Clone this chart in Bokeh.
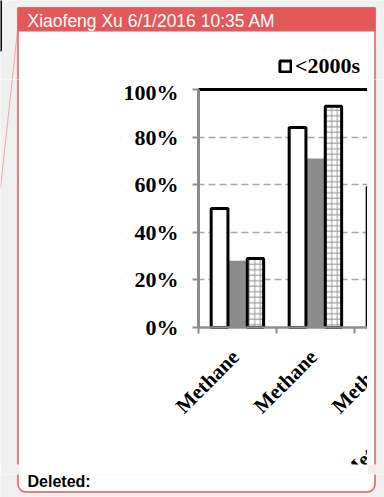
import math

from bokeh.core.properties import value
from bokeh.embed import file_html
from bokeh.layouts import column, row
from bokeh.models import (BoxAnnotation, ColumnDataSource, FixedTicker, Label, LabelSet,
                          Legend, LegendItem, PrintfTickFormatter, Range1d)
from bokeh.plotting import figure
from bokeh.resources import INLINE

# ---- data -------------------------------------------------------------
categories = ["Methane", "Methane", "Methane", "Methane Emissions"]
share_white = [50, 84, 59]          # "<2000s" series (open bars)
share_gray = [28, 71]               # solid grey series
share_hatch = [29, 93]              # cross-hatched series
legend_label = "<2000s"
y_ticks = [0, 20, 40, 60, 80, 100]
author_line = "Xiaofeng Xu 6/1/2016 10:35 AM"
status_text = "Deleted:"

# ---- styling ----------------------------------------------------------
W, H = 384, 497
SERIF = "Liberation Serif"
SANS = "Liberation Sans"
RED = "#e35858"
AXIS_GREY = "#8c8c8c"
PAGE_GREY = "#f0f0f0"

# page geometry (pixels)
CX0, CX1, CY0, CY1 = 20, 367, 79, 474      # chart figure
FRAME_L, FRAME_B_PAD = 120, 10             # drawing-area left edge / room for x axis
PLOT_L, PLOT_T, PLOT_B = 198, 89, 327      # value-axis origin / 100% / 0%
CAT_PX = 78                                # width of one category slot
PCT_PX = (PLOT_B - PLOT_T) / 100.0         # pixels per percentage point

white_style = dict(fill_color="white", line_color="black", line_width=3)
gray_style = dict(fill_color=AXIS_GREY, line_color=None)
hatch_style = dict(fill_color="white", line_color="black", line_width=3,
                   hatch_pattern="+", hatch_color="#9a9a9a", hatch_scale=5.5,
                   hatch_weight=1)


def chrome_fig(x0, x1, y0, y1, radius=0):
    """A piece of the comment balloon, drawn in page pixel coordinates."""
    f = figure(width=x1 - x0, height=y1 - y0, output_backend="svg", toolbar_location=None,
               x_range=Range1d(x0, x1), y_range=Range1d(y1, y0),
               x_axis_location=None, y_axis_location=None, min_border=0)
    f.grid.visible = False
    f.outline_line_color = None
    f.background_fill_color = PAGE_GREY
    f.border_fill_color = PAGE_GREY
    # connector line from the balloon to the page
    f.segment(x0=17, y0=30, x1=0, y1=190, line_color="#f2a5a5", line_width=1)
    # balloon body with red outline
    f.quad(left=17.5, right=374.5, top=7.5, bottom=491.5, fill_color="white",
           line_color=RED, line_width=1.5, border_radius=radius)
    return f


# ---- header strip with author line and the legend ------------------------
top = chrome_fig(0, W, 0, CY0)
top.quad(left=17, right=375, top=7, bottom=31, fill_color=RED, line_color=None)
top.add_layout(Label(x=27, y=20, text=author_line, text_font=SANS,
                     text_font_size="17.5px", text_color="white",
                     text_baseline="alphabetic"))
# legend sample: same style as the open bars, parked outside the strip
legend_proxy = top.vbar(x=[-50], top=[share_white[0]], width=10, **white_style)
top.add_layout(Legend(items=[LegendItem(label=legend_label, renderers=[legend_proxy])],
                      location=(278, 0), glyph_width=14, glyph_height=14,
                      padding=0, margin=0, spacing=0, label_standoff=3,
                      border_line_color=None, background_fill_alpha=0,
                      label_text_font=SERIF, label_text_font_style="bold",
                      label_text_font_size="22px", label_text_color="black"))

left = chrome_fig(0, CX0, CY0, CY1)
right = chrome_fig(CX1, W, CY0, CY1)
bottom = chrome_fig(0, W, CY1, H, radius=8)
bottom.add_layout(Label(x=27, y=481, text=status_text, text_font=SANS,
                        text_font_style="bold", text_font_size="16px",
                        text_color="black", text_baseline="alphabetic"))

# ---- chart --------------------------------------------------------------
x_end = (CX1 - PLOT_L) / CAT_PX
frame_b = CY1 - FRAME_B_PAD
p = figure(width=CX1 - CX0, height=CY1 - CY0, output_backend="svg",
           toolbar_location=None,
           x_range=Range1d((FRAME_L - PLOT_L) / CAT_PX, x_end),
           y_range=Range1d(-(frame_b - PLOT_B) / PCT_PX, 100 + (PLOT_T - CY0) / PCT_PX),
           min_border_left=FRAME_L - CX0, min_border_right=0,
           min_border_top=0, min_border_bottom=FRAME_B_PAD)
p.border_fill_color = "white"
p.background_fill_color = "white"
p.outline_line_color = None

# value axis, pinned to the category origin
yax = p.yaxis[0]
yax.fixed_location = 0
yax.bounds = (0, 100)
yax.ticker = FixedTicker(ticks=y_ticks)
yax.formatter = PrintfTickFormatter(format="%d%%")
yax.axis_line_color = AXIS_GREY
yax.axis_line_width = 3
yax.major_tick_line_color = AXIS_GREY
yax.major_tick_line_width = 2
yax.major_tick_out = 6
yax.major_tick_in = 0
yax.minor_tick_line_color = None
yax.major_label_text_font = SERIF
yax.major_label_text_font_style = "bold"
yax.major_label_text_font_size = "22px"
yax.major_label_text_color = "black"
yax.major_label_standoff = 14

# category axis at 0%: baseline with tick marks on the slot boundaries
n = len(categories)
xax = p.xaxis[0]
xax.fixed_location = 0
xax.bounds = (0, x_end)
xax.ticker = FixedTicker(ticks=[], minor_ticks=list(range(n + 1)))
xax.axis_line_color = AXIS_GREY
xax.axis_line_width = 2.5
xax.major_tick_line_color = None
xax.major_tick_out = 0
xax.major_label_standoff = 0
xax.minor_tick_line_color = AXIS_GREY
xax.minor_tick_line_width = 2
xax.minor_tick_in = 0
xax.minor_tick_out = 6

p.xgrid.visible = False
p.ygrid[0].ticker = FixedTicker(ticks=[t for t in y_ticks if 0 < t < 100])
p.ygrid.grid_line_color = "#a6a6a6"
p.ygrid.grid_line_dash = "7 4"
p.ygrid.grid_line_width = 1.5
# keep the gridlines inside the plot area
p.add_layout(BoxAnnotation(right=0, fill_color="white", fill_alpha=1, line_color=None,
                           level="underlay"))

# heavy plot-area border along 100%
p.segment(x0=[0], y0=[100], x1=[x_end], y1=[100], line_color="black", line_width=3)

centers = [i + 0.5 for i in range(n)]
step = 0.23
p.vbar(x=centers[:len(share_gray)], top=share_gray, width=0.235, **gray_style)
p.vbar(x=[c - step for c in centers[:len(share_white)]], top=share_white,
       width=0.215, **white_style)
p.vbar(x=[c + step for c in centers[:len(share_hatch)]], top=share_hatch, width=0.21,
       **hatch_style)

# category names, slanted 45 degrees under each slot
names = ColumnDataSource(dict(x=centers, y=[0] * n, name=categories))
p.add_layout(LabelSet(x="x", y="y", text="name", source=names,
                      angle=math.pi / 4, text_align="right", text_baseline="middle",
                      x_offset=-2, y_offset=-26,
                      text_font=value(SERIF), text_font_style="bold",
                      text_font_size="21px", text_color="black"))

page = column(top, row(left, p, right), bottom)
open("out.html", "w").write(file_html(page, INLINE))
